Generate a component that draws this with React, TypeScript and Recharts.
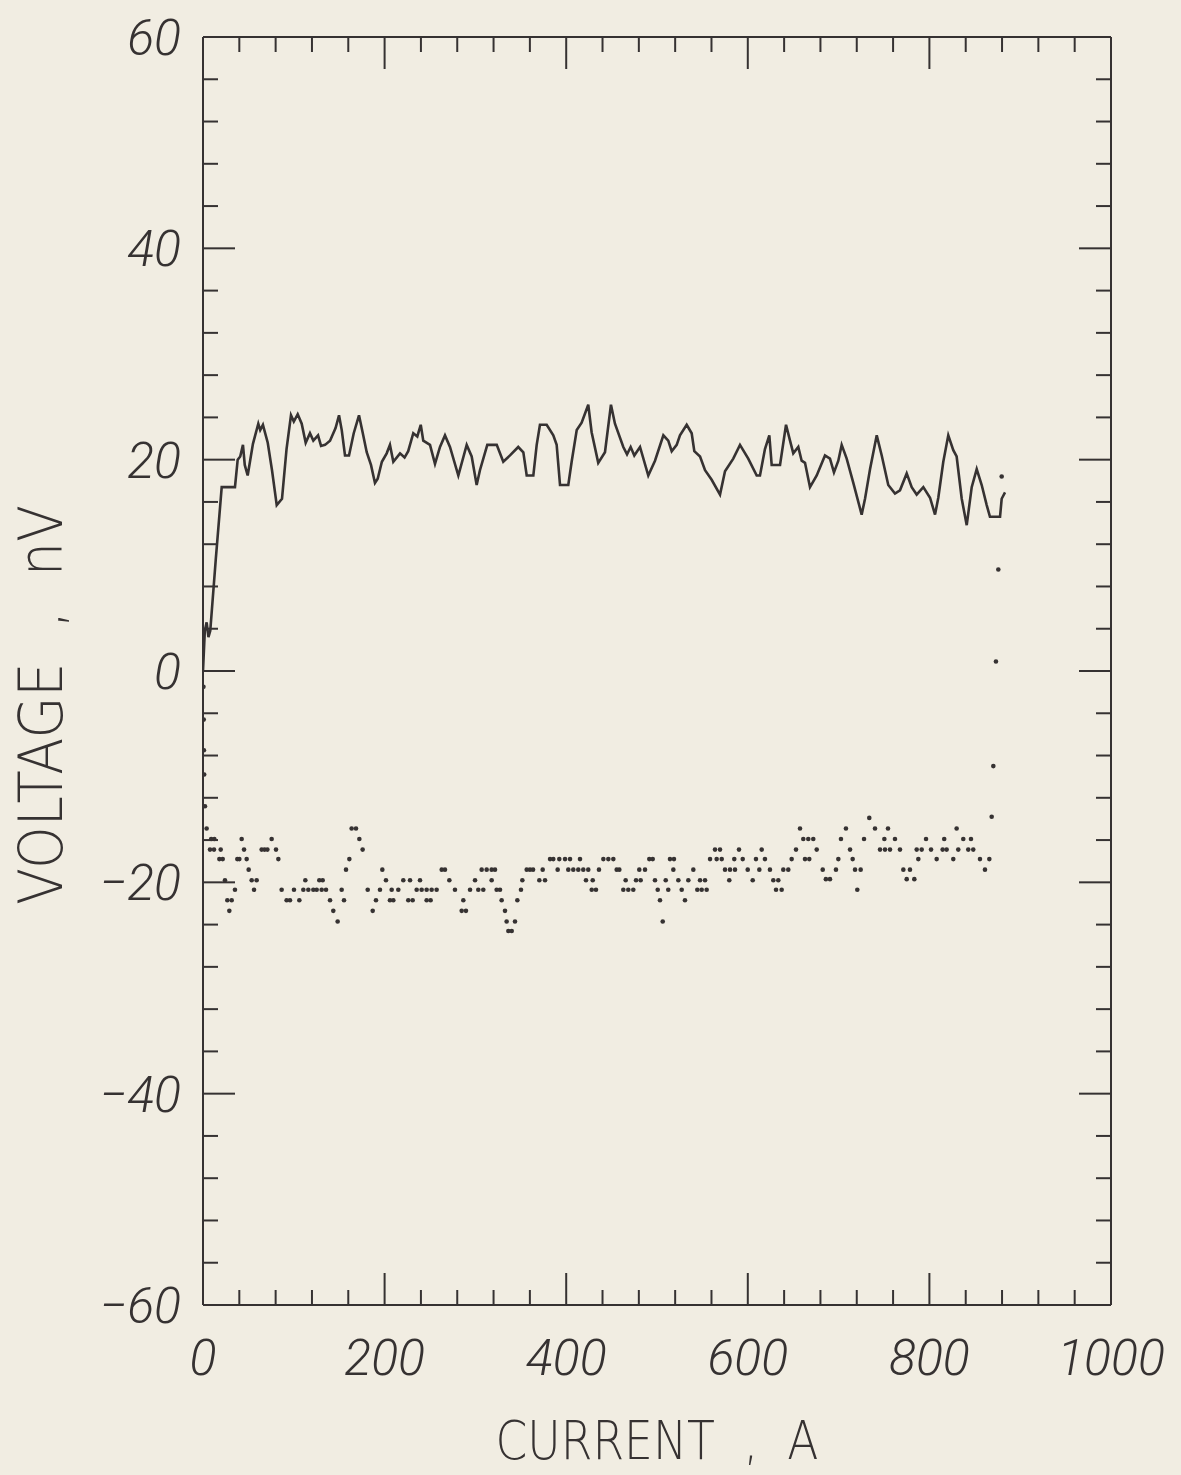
import React from "react";
import {
    ComposedChart,
    Line,
    Scatter,
    XAxis,
    YAxis,
} from "recharts";

// upper trace, [current A, voltage nV]
const upperTrace: [number, number][] = [
    [0, 0], [2, 3.8], [4, 4.6], [6, 3.2], [8, 3.8], [14, 10.5], [20.6, 17.4], [35.2, 17.4],
    [38.2, 20], [41, 20.3], [44, 21.4], [46, 19.5], [49.2, 18.5], [55, 21.5], [60.9, 23.4],
    [63, 22.8], [66, 23.3], [71.3, 21.6], [76, 19], [81.2, 15.7], [87, 16.3], [92, 21],
    [96.9, 24.2], [100, 23.6], [104.3, 24.3], [108.7, 23.4], [113.1, 21.6], [117.8, 22.5],
    [121.5, 21.8], [126.7, 22.3], [130, 21.3], [134.4, 21.4], [139.9, 21.8], [146, 23],
    [149.8, 24.2], [152.8, 22.8], [156.4, 20.4], [160.8, 20.4], [166, 22.5], [171.8, 24.2],
    [176, 22.5], [180.3, 20.7], [185, 19.5], [189.4, 17.8], [192.4, 18.2], [197, 19.8],
    [202.3, 20.6], [205.9, 21.4], [209.6, 19.8], [217, 20.6], [222, 20.2], [226, 20.8],
    [231.6, 22.5], [236, 22.2], [239.8, 23.3], [242.6, 21.8], [250, 21.4], [255.5, 19.6],
    [261, 21.2], [266.5, 22.3], [272, 21.2], [281.2, 18.5], [290.4, 21.4], [295.9, 20.3],
    [301.4, 17.6], [305, 19], [313.1, 21.4], [323.5, 21.4], [330.7, 19.8], [338.1, 20.4],
    [347.2, 21.2], [352.8, 20.7], [356.5, 18.5], [363.8, 18.5], [367.5, 21.4], [371.1, 23.3],
    [378.5, 23.3], [385.8, 22.3], [389.5, 21.4], [393.2, 17.6], [402.3, 17.6], [406, 19.8],
    [411.6, 22.8], [417, 23.5], [424.3, 25.2], [428, 22.6], [435.3, 19.7], [442.7, 20.7],
    [449.3, 25.2], [453.7, 23.4], [462.9, 21.2], [467, 20.5], [471, 21.2], [475, 20.4],
    [481.3, 21.2], [490.4, 18.5], [497.8, 19.9], [507, 22.3], [512.4, 21.8], [516.2, 20.8],
    [521.7, 21.4], [525.3, 22.3], [532.7, 23.3], [538.2, 22.5], [541.1, 20.8], [547.4, 20.3],
    [552.9, 19], [560.2, 18.1], [569.4, 16.7], [574.9, 18.9], [584, 20.1], [591.4, 21.4],
    [600.5, 20.1], [609.8, 18.5], [613.4, 18.5], [618.9, 21], [623.7, 22.3], [626.3, 19.5],
    [635.5, 19.5], [642.1, 23.3], [646.5, 21.8], [650.1, 20.6], [655.6, 21.2], [659.3, 19.9],
    [663, 19.7], [668.5, 17.4], [675.9, 18.5], [685, 20.4], [690.5, 20.1], [694.9, 18.8],
    [699.7, 19.9], [703.4, 21.4], [708.9, 20.1], [716.2, 17.8], [725.4, 14.8], [729.1, 16.3],
    [734.6, 19.1], [742, 22.3], [747.5, 20.4], [754.7, 17.6], [762.1, 16.8], [767.6, 17.1],
    [775, 18.7], [780.5, 17.4], [786, 16.7], [793.3, 17.4], [800.7, 16.4], [806.2, 14.8],
    [809.8, 16.4], [815.3, 19.8], [820.8, 22.3], [826.3, 20.9], [830, 20.3], [835.6, 16.3],
    [841.1, 13.8], [846.6, 17.4], [852.1, 19.1], [857.6, 17.6], [863.1, 15.7], [866.7, 14.6],
    [877.8, 14.6], [879.6, 16.3], [883.3, 16.9],
];

// lower dotted trace, [current A, voltage nV]
const lowerDots: [number, number][] = [
    [0.5, -1.5], [0.8, -4.6], [1, -7.5], [1.3, -9.8], [2.2, -12.8],
    [4, -14.9], [9, -15.9], [12.5, -15.9], [7.7, -16.9], [12.1, -16.9], [19.5, -16.9],
    [18, -17.8], [21.7, -17.8], [24.2, -19.8], [26.8, -21.7], [31.6, -21.7], [29, -22.7],
    [35.2, -20.7], [37.8, -17.8], [40, -17.8], [42.6, -15.9], [45.2, -16.9], [48.1, -17.8],
    [50.3, -18.8], [53.6, -19.8], [59.1, -19.8], [56.2, -20.7], [64.6, -16.9], [67.8, -16.9],
    [70.9, -16.9], [75.6, -15.9], [80.4, -16.9], [83, -17.8], [86.6, -20.7], [92.1, -21.7],
    [95.8, -21.7], [100.2, -20.7], [106.1, -21.7], [112.7, -19.8], [110.5, -20.7],
    [116, -20.7], [121.5, -20.7], [125.2, -20.7], [128.1, -19.8], [131.8, -19.8],
    [130.7, -20.7], [135.5, -20.7], [139.9, -21.7], [143.5, -22.7], [148.3, -23.7],
    [152.7, -20.7], [155.3, -21.7], [157.5, -18.8], [161.2, -17.8], [163.7, -14.9],
    [168.5, -14.9], [172.2, -15.9], [175.8, -16.9], [181.4, -20.7], [186.9, -22.7],
    [190.5, -21.7], [194.9, -20.7], [197.5, -18.8], [201.5, -19.8], [205.9, -21.7],
    [209.6, -21.7], [207.8, -20.7], [215.1, -20.7], [220.6, -19.8], [228, -19.8],
    [226.1, -21.7], [230.9, -21.7], [235.3, -20.7], [239, -19.8], [240.8, -20.7],
    [246.3, -20.7], [251.8, -20.7], [257.3, -20.7], [246.3, -21.7], [250.7, -21.7],
    [262.9, -18.8], [266.5, -18.8], [271.3, -19.8], [277.5, -20.7], [286.7, -21.7],
    [284.9, -22.7], [289.6, -22.7], [294.1, -20.7], [299.6, -19.8], [303.2, -20.7],
    [308.7, -20.7], [306.9, -18.8], [312.4, -18.8], [317.9, -18.8], [321.6, -18.8],
    [317.9, -19.8], [323.4, -20.7], [327.1, -20.7], [328.9, -21.7], [332.6, -22.7],
    [334.4, -23.7], [336.3, -24.6], [340, -24.6], [343.6, -23.7], [346.2, -21.7],
    [350.2, -20.7], [351.7, -19.8], [356.5, -18.8], [360.1, -18.8], [363.5, -18.8],
    [370.4, -19.8], [376.7, -19.8], [374.1, -18.8], [382.2, -17.8], [385.8, -17.8],
    [390.6, -18.8], [392.4, -17.8], [398.7, -17.8], [404.2, -17.8], [402.3, -18.8],
    [407.8, -18.8], [413.3, -18.8], [415.2, -17.8], [418.8, -18.8], [424.3, -18.8],
    [421.8, -19.8], [429.2, -19.8], [428.1, -20.7], [432.8, -20.7], [436.1, -18.8],
    [440.9, -17.8], [446.4, -17.8], [451.9, -17.8], [455.6, -18.8], [458.5, -18.8],
    [465.5, -19.8], [462.9, -20.7], [468.4, -20.7], [473.9, -20.7], [476.9, -19.8],
    [482, -19.8], [480.5, -18.8], [486.8, -18.8], [491.5, -17.8], [495.3, -17.8],
    [497.8, -19.8], [500.8, -20.7], [503.3, -21.7], [506.3, -23.7], [509.6, -19.8],
    [512.4, -20.7], [514.3, -17.8], [518.7, -17.8], [518, -18.8], [523.5, -19.8],
    [527.2, -20.7], [530.8, -21.7], [534.5, -19.8], [540, -18.8], [544.4, -20.7],
    [549.2, -20.7], [554.7, -20.7], [547.4, -19.8], [552.9, -19.8], [558.4, -17.8],
    [565.7, -17.8], [571.3, -17.8], [563.9, -16.9], [569.4, -16.9], [574.9, -18.8],
    [580.4, -18.8], [585.9, -18.8], [579.6, -19.8], [585.1, -17.8], [590.3, -16.9],
    [594.4, -17.8], [599.9, -18.8], [605.4, -19.8], [609, -17.8], [612.7, -18.8],
    [615.3, -16.9], [618.9, -17.8], [624.4, -18.8], [628.1, -19.8], [633.6, -19.8],
    [631.1, -20.7], [637.3, -20.7], [639.1, -18.8], [644.6, -18.8], [648.3, -17.8],
    [653.1, -16.9], [657.5, -14.9], [661.1, -15.9], [666.6, -15.9], [672.1, -15.9],
    [663, -17.8], [667.7, -17.8], [675.9, -16.9], [682.5, -18.8], [686, -19.7],
    [690.5, -19.7], [697.1, -18.8], [699.7, -17.8], [702.6, -15.9], [708.1, -14.9],
    [712.6, -16.9], [715.5, -17.8], [718.1, -18.8], [724.3, -18.8], [720.6, -20.7],
    [728, -15.9], [733.8, -13.9], [740.1, -14.9], [745.6, -16.9], [751.1, -16.9],
    [756.6, -16.9], [750.4, -15.9], [754.4, -14.9], [762.1, -15.9], [767.6, -16.9],
    [771.3, -18.8], [778.6, -18.8], [775, -19.7], [783.4, -19.7], [786, -16.9],
    [791.5, -16.9], [787.8, -17.8], [796.3, -15.9], [801.8, -16.9], [808, -17.8],
    [814.6, -16.9], [819, -16.9], [816.3, -15.9], [826.3, -17.8], [830, -14.9],
    [831.8, -16.9], [837.3, -15.9], [842.8, -16.9], [848.3, -16.9], [845.8, -15.9],
    [855.7, -17.8], [861.2, -18.8], [866, -17.8], [868.6, -13.8], [870.4, -9],
    [873.3, 0.9], [875.9, 9.6], [879.6, 18.4],
];

const currentTicks = [
    0, 40, 80, 120, 160, 200, 240, 280, 320, 360, 400, 440, 480, 520, 560, 600,
    640, 680, 720, 760, 800, 840, 880, 920, 960, 1000,
];
const currentLabels = [0, 200, 400, 600, 800, 1000];
const voltageTicks = [
    -60, -56, -52, -48, -44, -40, -36, -32, -28, -24, -20, -16, -12, -8, -4, 0,
    4, 8, 12, 16, 20, 24, 28, 32, 36, 40, 44, 48, 52, 56, 60,
];
const voltageLabels = [-60, -40, -20, 0, 20, 40, 60];

const INK = "#363232";
const PAPER = "#f1ede2";
const TICK_FONT = "Roboto, 'Noto Sans', sans-serif";

const lineData = upperTrace.map(([x, y]) => ({ x, y }));
const dotData = lowerDots.map(([x, y]) => ({ x, y }));

const MAJOR = 32;
const MINOR = 15;

const fmtTick = (v: number) => (v < 0 ? `\u2212${Math.abs(v)}` : `${v}`);

const BottomTick = ({ x, y, payload }: any) => {
    const major = currentLabels.includes(payload.value);
    return (
        <g>
            <line x1={x} y1={y} x2={x} y2={y - (major ? MAJOR : MINOR)} stroke={INK} strokeWidth={2} />
            {major && (
                <text
                    x={x}
                    y={y + 70}
                    textAnchor="middle"
                    fontFamily={TICK_FONT}
                    fontStyle="italic"
                    fontWeight={300}
                    fontSize={50}
                    fill={INK}
                >
                    {fmtTick(payload.value)}
                </text>
            )}
        </g>
    );
};

const TopTick = ({ x, y, payload }: any) => {
    const major = currentLabels.includes(payload.value);
    return <line x1={x} y1={y} x2={x} y2={y + (major ? MAJOR : MINOR)} stroke={INK} strokeWidth={2} />;
};

const LeftTick = ({ x, y, payload }: any) => {
    const major = voltageLabels.includes(payload.value);
    return (
        <g>
            <line x1={x} y1={y} x2={x + (major ? MAJOR : MINOR)} y2={y} stroke={INK} strokeWidth={2} />
            {major && (
                <text
                    x={x - 22}
                    y={y + 18}
                    textAnchor="end"
                    fontFamily={TICK_FONT}
                    fontStyle="italic"
                    fontWeight={300}
                    fontSize={50}
                    fill={INK}
                >
                    {fmtTick(payload.value)}
                </text>
            )}
        </g>
    );
};

const RightTick = ({ x, y, payload }: any) => {
    const major = voltageLabels.includes(payload.value);
    return <line x1={x} y1={y} x2={x - (major ? MAJOR : MINOR)} y2={y} stroke={INK} strokeWidth={2} />;
};

const Dot = ({ cx, cy }: any) => <circle cx={cx} cy={cy} r={2.3} fill={INK} />;

const XTitle = ({ viewBox }: any) => (
    <text
        x={viewBox.x + viewBox.width / 2}
        y={viewBox.y + 154}
        textAnchor="middle"
        textLength={323}
        lengthAdjust="spacingAndGlyphs"
        fontFamily="'DejaVu Sans', sans-serif"
        fontWeight={300}
        fontSize={54}
        fill={INK}
        style={{ whiteSpace: "pre" }}
    >
        {"CURRENT  ,  A"}
    </text>
);

const YTitle = ({ viewBox }: any) => {
    const cx = viewBox.x + 62;
    const cy = viewBox.y + viewBox.height / 2 + 34;
    return (
        <text
            x={cx}
            y={cy}
            transform={`rotate(-90 ${cx} ${cy})`}
            textAnchor="middle"
            textLength={400}
            lengthAdjust="spacingAndGlyphs"
            fontFamily="'DejaVu Sans', sans-serif"
            fontWeight={300}
            fontSize={60}
            fill={INK}
            style={{ whiteSpace: "pre" }}
        >
            {"VOLTAGE  ,  nV"}
        </text>
    );
};

const App: React.FC = () => {
    return (
        <div style={{ position: "absolute", left: 0, top: 0, width: 1181, height: 1475, background: PAPER }}>
            <ComposedChart
                width={1181}
                height={1475}
                margin={{ top: 0, right: 0, bottom: 0, left: 0 }}
            >
                <XAxis
                    xAxisId="bottom"
                    dataKey="x"
                    type="number"
                    domain={[0, 1000]}
                    ticks={currentTicks}
                    interval={0}
                    height={170}
                    tickSize={0}
                    tickMargin={0}
                    tickLine={false}
                    axisLine={{ stroke: INK, strokeWidth: 2 }}
                    tick={<BottomTick />}
                    label={<XTitle />}
                    allowDataOverflow
                />
                <XAxis
                    xAxisId="top"
                    orientation="top"
                    dataKey="x"
                    type="number"
                    domain={[0, 1000]}
                    ticks={currentTicks}
                    interval={0}
                    height={37}
                    tickSize={0}
                    tickMargin={0}
                    tickLine={false}
                    axisLine={{ stroke: INK, strokeWidth: 2 }}
                    tick={<TopTick />}
                    allowDataOverflow
                />
                <YAxis
                    yAxisId="left"
                    dataKey="y"
                    type="number"
                    domain={[-60, 60]}
                    ticks={voltageTicks}
                    interval={0}
                    width={203}
                    tickSize={0}
                    tickMargin={0}
                    tickLine={false}
                    axisLine={{ stroke: INK, strokeWidth: 2 }}
                    tick={<LeftTick />}
                    label={<YTitle />}
                    allowDataOverflow
                />
                <YAxis
                    yAxisId="right"
                    orientation="right"
                    dataKey="y"
                    type="number"
                    domain={[-60, 60]}
                    ticks={voltageTicks}
                    interval={0}
                    width={70}
                    tickSize={0}
                    tickMargin={0}
                    tickLine={false}
                    axisLine={{ stroke: INK, strokeWidth: 2 }}
                    tick={<RightTick />}
                    allowDataOverflow
                />
                <Line
                    xAxisId="bottom"
                    yAxisId="left"
                    data={lineData}
                    dataKey="y"
                    type="linear"
                    stroke={INK}
                    strokeWidth={2.6}
                    dot={false}
                    activeDot={false}
                    isAnimationActive={false}
                />
                <Scatter
                    xAxisId="bottom"
                    yAxisId="left"
                    data={dotData}
                    dataKey="y"
                    shape={<Dot />}
                    isAnimationActive={false}
                />
            </ComposedChart>
        </div>
    );
};

export default App;
